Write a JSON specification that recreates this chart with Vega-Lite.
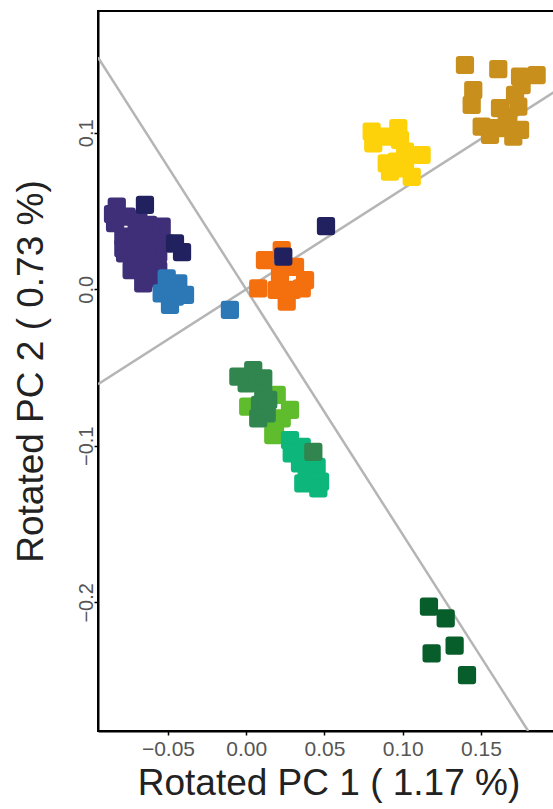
{
  "$schema": "https://vega.github.io/schema/vega-lite/v6.json",
  "autosize": "none",
  "padding": {"left": 98, "top": 11, "right": 0, "bottom": 78},
  "width": 461,
  "height": 720,
  "background": "white",
  "config": {
    "view": {"stroke": "black", "strokeWidth": 2},
    "font": "Liberation Sans",
    "axis": {"grid": false, "domainColor": "black", "domainWidth": 2, "tickColor": "black", "tickWidth": 1.5, "tickSize": 4, "labelColor": "#555", "titleColor": "#222", "titleFontWeight": "normal", "labelFont": "Liberation Sans", "titleFont": "Liberation Sans"}
  },
  "datasets": {
    "lines": [
      {"line": "a", "x": -0.0947, "y": 0.1482},
      {"line": "a", "x": 0.1802, "y": -0.2822},
      {"line": "b", "x": -0.0947, "y": -0.0606},
      {"line": "b", "x": 0.1999, "y": 0.128}
    ],
    "pts": [
      {"grp": "purple", "x": -0.0827, "y": 0.0528},
      {"grp": "purple", "x": -0.0851, "y": 0.0481},
      {"grp": "purple", "x": -0.0838, "y": 0.0422},
      {"grp": "purple", "x": -0.0764, "y": 0.0464},
      {"grp": "purple", "x": -0.0785, "y": 0.0336},
      {"grp": "purple", "x": -0.0689, "y": 0.0443},
      {"grp": "purple", "x": -0.0626, "y": 0.0411},
      {"grp": "purple", "x": -0.0540, "y": 0.0400},
      {"grp": "purple", "x": -0.0711, "y": 0.0315},
      {"grp": "purple", "x": -0.0604, "y": 0.0315},
      {"grp": "purple", "x": -0.0774, "y": 0.0230},
      {"grp": "purple", "x": -0.0668, "y": 0.0208},
      {"grp": "purple", "x": -0.0562, "y": 0.0230},
      {"grp": "purple", "x": -0.0647, "y": 0.0123},
      {"grp": "purple", "x": -0.0562, "y": 0.0123},
      {"grp": "purple", "x": -0.0658, "y": 0.0038},
      {"grp": "purple", "x": -0.0732, "y": 0.0123},
      {"grp": "purple", "x": -0.0519, "y": 0.0294},
      {"grp": "purple", "x": -0.0785, "y": 0.0262},
      {"grp": "purple", "x": -0.0700, "y": 0.0380},
      {"grp": "purple", "x": -0.0600, "y": 0.0070},
      {"grp": "blue", "x": -0.0508, "y": 0.0070},
      {"grp": "blue", "x": -0.0434, "y": 0.0038},
      {"grp": "blue", "x": -0.0540, "y": -0.0026},
      {"grp": "blue", "x": -0.0455, "y": -0.0047},
      {"grp": "blue", "x": -0.0391, "y": -0.0036},
      {"grp": "blue", "x": -0.0487, "y": -0.0100},
      {"grp": "blue", "x": -0.0104, "y": -0.0132},
      {"grp": "orange", "x": 0.0120, "y": 0.0187},
      {"grp": "orange", "x": 0.0227, "y": 0.0251},
      {"grp": "orange", "x": 0.0312, "y": 0.0144},
      {"grp": "orange", "x": 0.0376, "y": 0.0059},
      {"grp": "orange", "x": 0.0216, "y": 0.0102},
      {"grp": "orange", "x": 0.0077, "y": 0.0006},
      {"grp": "orange", "x": 0.0195, "y": -0.0004},
      {"grp": "orange", "x": 0.0291, "y": -0.0004},
      {"grp": "orange", "x": 0.0259, "y": -0.0079},
      {"grp": "orange", "x": 0.0355, "y": 0.0006},
      {"grp": "navy", "x": -0.0647, "y": 0.0539},
      {"grp": "navy", "x": -0.0455, "y": 0.0294},
      {"grp": "navy", "x": -0.0410, "y": 0.0238},
      {"grp": "navy", "x": 0.0237, "y": 0.0208},
      {"grp": "navy", "x": 0.0510, "y": 0.0404},
      {"grp": "yellow", "x": 0.0802, "y": 0.1007},
      {"grp": "yellow", "x": 0.0812, "y": 0.0933},
      {"grp": "yellow", "x": 0.0887, "y": 0.0975},
      {"grp": "yellow", "x": 0.0972, "y": 0.1029},
      {"grp": "yellow", "x": 0.0983, "y": 0.0954},
      {"grp": "yellow", "x": 0.1015, "y": 0.0879},
      {"grp": "yellow", "x": 0.1121, "y": 0.0858},
      {"grp": "yellow", "x": 0.0898, "y": 0.0805},
      {"grp": "yellow", "x": 0.0962, "y": 0.0815},
      {"grp": "yellow", "x": 0.1015, "y": 0.0773},
      {"grp": "yellow", "x": 0.0919, "y": 0.0751},
      {"grp": "yellow", "x": 0.1058, "y": 0.0719},
      {"grp": "gold", "x": 0.1398, "y": 0.1433},
      {"grp": "gold", "x": 0.1611, "y": 0.1406},
      {"grp": "gold", "x": 0.1750, "y": 0.1358},
      {"grp": "gold", "x": 0.1856, "y": 0.1369},
      {"grp": "gold", "x": 0.1451, "y": 0.1273},
      {"grp": "gold", "x": 0.1441, "y": 0.1178},
      {"grp": "gold", "x": 0.1718, "y": 0.1242},
      {"grp": "gold", "x": 0.1622, "y": 0.1157},
      {"grp": "gold", "x": 0.1739, "y": 0.1167},
      {"grp": "gold", "x": 0.1505, "y": 0.1039},
      {"grp": "gold", "x": 0.1601, "y": 0.1029},
      {"grp": "gold", "x": 0.1675, "y": 0.1071},
      {"grp": "gold", "x": 0.1750, "y": 0.1018},
      {"grp": "gold", "x": 0.1558, "y": 0.0986},
      {"grp": "gold", "x": 0.1707, "y": 0.0975},
      {"grp": "gold", "x": 0.1760, "y": 0.1305},
      {"grp": "gold", "x": 0.1665, "y": 0.1103},
      {"grp": "lightgreen", "x": 0.0013, "y": -0.0750},
      {"grp": "lightgreen", "x": 0.0195, "y": -0.0675},
      {"grp": "lightgreen", "x": 0.0280, "y": -0.0771},
      {"grp": "lightgreen", "x": 0.0184, "y": -0.0878},
      {"grp": "lightgreen", "x": 0.0227, "y": -0.0824},
      {"grp": "lightgreen", "x": 0.0173, "y": -0.0931},
      {"grp": "seagreen", "x": -0.0050, "y": -0.0558},
      {"grp": "seagreen", "x": 0.0045, "y": -0.0516},
      {"grp": "seagreen", "x": 0.0109, "y": -0.0569},
      {"grp": "seagreen", "x": 0.0003, "y": -0.0601},
      {"grp": "seagreen", "x": 0.0109, "y": -0.0665},
      {"grp": "seagreen", "x": 0.0088, "y": -0.0739},
      {"grp": "seagreen", "x": 0.0131, "y": -0.0792},
      {"grp": "seagreen", "x": 0.0077, "y": -0.0824},
      {"grp": "seagreen", "x": 0.0141, "y": -0.0707},
      {"grp": "midgreen", "x": 0.0280, "y": -0.0963},
      {"grp": "midgreen", "x": 0.0355, "y": -0.1006},
      {"grp": "midgreen", "x": 0.0291, "y": -0.1048},
      {"grp": "midgreen", "x": 0.0344, "y": -0.1112},
      {"grp": "midgreen", "x": 0.0450, "y": -0.1134},
      {"grp": "midgreen", "x": 0.0387, "y": -0.1187},
      {"grp": "midgreen", "x": 0.0472, "y": -0.1229},
      {"grp": "midgreen", "x": 0.0365, "y": -0.1240},
      {"grp": "midgreen", "x": 0.0461, "y": -0.1272},
      {"grp": "seagreen", "x": 0.0429, "y": -0.1038},
      {"grp": "darkgreen", "x": 0.1168, "y": -0.2028},
      {"grp": "darkgreen", "x": 0.1275, "y": -0.2102},
      {"grp": "darkgreen", "x": 0.1185, "y": -0.2326},
      {"grp": "darkgreen", "x": 0.1332, "y": -0.2277},
      {"grp": "darkgreen", "x": 0.1411, "y": -0.2465}
    ]
  },
  "layer": [
    {
      "data": {"name": "lines"},
      "mark": {"type": "line", "color": "#B5B5B5", "strokeWidth": 2.5, "clip": true},
      "encoding": {
        "x": {"field": "x", "type": "quantitative", "scale": {"domain": [-0.0947, 0.1999], "nice": false, "zero": false},
          "axis": {"values": [-0.05, 0, 0.05, 0.1, 0.15], "format": ".2f", "labelFontSize": 21, "labelPadding": 3, "title": "Rotated PC 1 ( 1.17 %)", "titleFontSize": 37, "titlePadding": 6}},
        "y": {"field": "y", "type": "quantitative", "scale": {"domain": [-0.2822, 0.1778], "nice": false, "zero": false},
          "axis": {"values": [-0.2, -0.1, 0, 0.1], "format": ".1f", "labelFontSize": 20, "labelAngle": -90, "labelAlign": "center", "labelBaseline": "alphabetic", "labelPadding": 2, "title": "Rotated PC 2 ( 0.73 %)", "titleFontSize": 37, "titlePadding": 26}},
        "detail": {"field": "line"}
      }
    },
    {
      "data": {"name": "pts"},
      "mark": {"type": "point", "shape": "square", "filled": true, "opacity": 1, "size": 150, "strokeWidth": 6, "strokeJoin": "round", "clip": true},
      "encoding": {
        "x": {"field": "x", "type": "quantitative"},
        "y": {"field": "y", "type": "quantitative"},
        "color": {"field": "grp", "type": "nominal", "legend": null,
          "scale": {"domain": ["purple", "blue", "orange", "navy", "yellow", "gold", "lightgreen", "seagreen", "midgreen", "darkgreen"],
                    "range": ["#3F2F78", "#2C78B6", "#F4700F", "#21215F", "#FDD20A", "#C98F1D", "#5FBC2C", "#31854F", "#0DB67A", "#075E2B"]}},
        "stroke": {"field": "grp", "type": "nominal", "legend": null,
          "scale": {"domain": ["purple", "blue", "orange", "navy", "yellow", "gold", "lightgreen", "seagreen", "midgreen", "darkgreen"],
                    "range": ["#3F2F78", "#2C78B6", "#F4700F", "#21215F", "#FDD20A", "#C98F1D", "#5FBC2C", "#31854F", "#0DB67A", "#075E2B"]}}
      }
    }
  ]
}
